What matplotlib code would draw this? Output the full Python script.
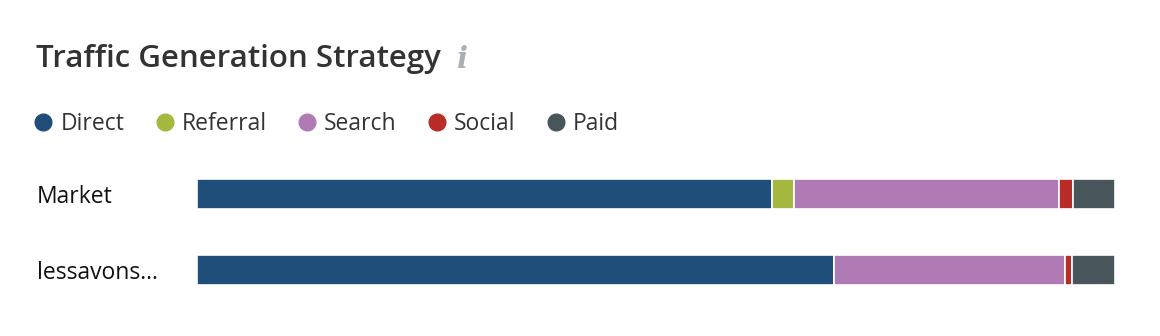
import numpy as np
import matplotlib.pyplot as plt
from matplotlib.lines import Line2D

#-------------------------------------------------------------------------------
# Traffic Generation Strategy - stacked horizontal bars
#-------------------------------------------------------------------------------

sites = ['Market', 'lessavons...']
channels = ['Direct', 'Referral', 'Search', 'Social', 'Paid']
colors = ['#1f4e7b', '#a4b840', '#b07bb4', '#b92d29', '#48565c']

# share of traffic (%) per channel, one value per site
direct = [62.6, 69.4]
referral = [2.4, 0.0]
search = [28.9, 25.2]
social = [1.5, 0.7]
paid = [4.6, 4.7]

values = [direct, referral, search, social, paid]

plt.rcParams['font.family'] = ['Open Sans', 'DejaVu Sans']

W, H = 1160, 336
fig = plt.figure(figsize=(W / 100, H / 100), dpi=100)

# axes placed in pixel coordinates of the reference
left, right, top, bottom = 197, 1115, 156, 308
ax = fig.add_axes([left / W, 1 - bottom / H, (right - left) / W, (bottom - top) / H])

y = np.arange(len(sites))
start = np.zeros(len(sites))
for name, vals, col in zip(channels, values, colors):
    vals = np.array(vals)
    ax.barh(y, vals, left=start, height=30 / 76, color=col,
            edgecolor='white', linewidth=1.2, label=name)
    start += vals

ax.set_xlim(0, 100)
ax.set_ylim(1.5, -0.5)
ax.set_xticks([])
ax.set_yticks(y)
ax.set_yticklabels(sites, fontsize=16.5, color='#111111', ha='left')
ax.tick_params(axis='y', length=0, pad=(left - 37) * 0.72)
for s in ax.spines.values():
    s.set_visible(False)

# title + info icon
fig.text(36 / W, 1 - 59 / H, 'Traffic Generation Strategy', fontsize=22.5,
         fontweight='semibold', color='#333333', va='center', ha='left')
fig.text(457 / W, 1 - 59 / H, 'i', fontsize=21, family='DejaVu Serif',
         style='italic', fontweight='bold', color='#a9b0b4', va='center', ha='left')

# legend
handles = [Line2D([], [], marker='o', linestyle='none', markersize=12,
                  markerfacecolor=c, markeredgecolor=c) for c in colors]
fig.legend(handles, channels, loc='center left', ncol=5,
           bbox_to_anchor=(9 / W, 1 - 124 / H), frameon=False,
           fontsize=16.5, handletextpad=0.15, columnspacing=1.15,
           labelcolor='#333333', handlelength=1.2)

plt.savefig('out.png', dpi=100)
plt.close()
